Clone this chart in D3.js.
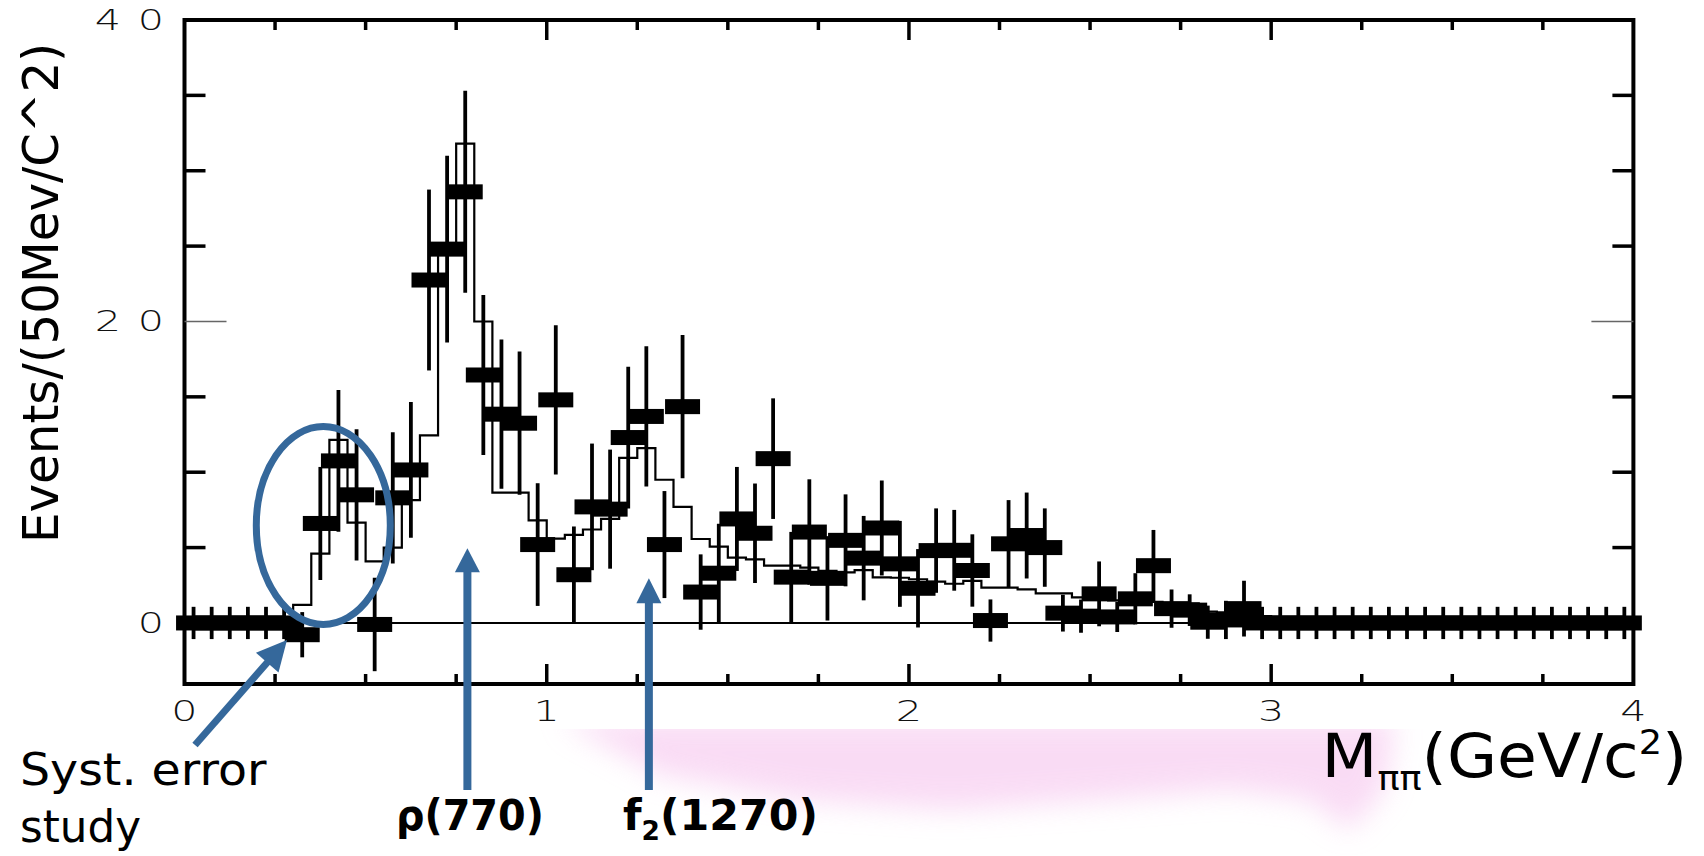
<!DOCTYPE html>
<html><head><meta charset="utf-8">
<script src="https://cdn.jsdelivr.net/npm/d3@7"></script>
<style>html,body{margin:0;padding:0;background:#fff;overflow:hidden}svg{display:block}</style>
</head><body>
<svg id="c" width="1704" height="856"></svg>
<script>
// ---------------- data ----------------
const binWidth = 0.05;               // GeV per bin (50 MeV)
// measured points (events / 50 MeV), bins 0..79
const values = [
  0,0,0,0,0,0,-0.78,6.6,10.75,8.5,
  -0.1,8.3,10.15,22.75,24.8,28.6,16.45,13.85,13.25,5.2,
  14.8,3.2,7.7,7.55,12.3,13.7,5.2,14.35,2.05,3.3,
  6.9,5.95,10.9,3.04,6.03,2.96,5.48,4.3,6.3,3.92,
  2.3,4.8,4.82,3.48,0.16,5.25,5.8,5.0,0.65,0.45,
  1.93,0.4,1.6,3.8,0.95,0.85,0.05,0.2,0.95,0,
  0,0,0,0,0,0,0,0,0,0,
  0,0,0,0,0,0,0,0,0,0
];
const errors = [
  1.07,1.07,1.07,1.07,1.07,1.07,1.5,3.75,4.7,4.35,
  3.1,4.35,4.5,6.0,6.2,6.7,5.3,4.95,4.75,4.07,
  4.95,3.2,4.2,3.95,4.7,4.65,3.55,4.75,2.5,3.28,
  3.45,3.3,4.0,3.0,3.5,2.8,3.05,2.8,3.15,2.85,
  2.6,2.8,2.68,2.4,1.4,2.9,2.85,2.6,1.22,1.1,
  2.15,1.0,1.7,2.37,1.27,1.05,1.1,1.27,1.85,1.07,
  1.07,1.07,1.07,1.07,1.07,1.07,1.07,1.07,1.07,1.07,
  1.07,1.07,1.07,1.07,1.07,1.07,1.07,1.07,1.07,1.07
];
// Monte Carlo histogram
const mcValues = [
  0,0,0,0,0,0,1.2,4.6,12.15,6.65,
  4.08,5.0,8.15,12.45,24.5,31.8,20.0,8.65,8.65,6.8,
  5.6,5.84,6.2,6.9,10.95,11.6,9.5,7.7,5.57,5.06,
  4.33,4.22,3.8,3.8,3.67,3.45,3.35,3.5,3.03,3.0,
  2.9,2.74,2.6,2.79,2.34,2.34,2.23,1.96,1.96,1.7,
  1.6,1.5,1.45,1.4,1.3,1.3,0.75,0.7,0.55,0.45,
  0.35,0.3,0.25,0.2,0.2,0.15,0.1,0.1,0.1,0.1,
  0,0,0,0,0,0,0,0,0,0
];
const xTickLabels = ["0","1","2","3","4"];
const yTickLabels = ["0","20","40"];
const yTitle = "Events/(50Mev/C^2)";
const rhoLabel = "ρ(770)";
const f2Label = ["f","2","(1270)"];
const systLabel = ["Syst. error","study"];

// ---------------- setup ----------------
const svg = d3.select("#c");
const W = 1704, H = 856;
const x = d3.scaleLinear().domain([0, 4]).range([184.5, 1633.4]);
const y = d3.scaleLinear().domain([-4.05, 40]).range([684, 20]);
const BLUE = "#35689b";

// pink smudge (background decoration)
const defs = svg.append("defs");
defs.append("filter").attr("id","blur").attr("x","-20%").attr("y","-50%").attr("width","140%").attr("height","200%")
  .append("feGaussianBlur").attr("stdDeviation", 14);
defs.append("clipPath").attr("id","pinkclip").append("rect").attr("x",0).attr("y",729).attr("width",W).attr("height",H-729);
svg.append("g").attr("clip-path","url(#pinkclip)")
  .append("path")
  .attr("d","M560,720 L1395,720 L1385,790 L1350,830 L1310,800 L1230,790 L1100,800 L950,810 L800,800 L660,775 Z")
  .attr("fill","#f6c4ee").attr("opacity",0.6).attr("filter","url(#blur)");

// ---------------- plot ----------------
const plot = svg.append("g");

// MC step histogram
const mcPts = mcValues.map((v,i)=>({e:i*binWidth, v}));
mcPts.push({e: mcValues.length*binWidth, v: mcValues[mcValues.length-1]});
plot.append("path")
  .attr("d", d3.line().x(d=>x(d.e)).y(d=>y(d.v)).curve(d3.curveStepAfter)(mcPts))
  .attr("fill","none").attr("stroke","#000").attr("stroke-width",2.2);

// zero line
plot.append("line").attr("x1",x(0)).attr("x2",x(4)).attr("y1",y(0)).attr("y2",y(0))
  .attr("stroke","#000").attr("stroke-width",2);

const pts = values.map((v,i)=>({c:(i+0.5)*binWidth, v, e:errors[i]}));
plot.selectAll("line.err").data(pts).enter().append("line").attr("class","err")
  .attr("x1",d=>x(d.c)).attr("x2",d=>x(d.c))
  .attr("y1",d=>y(d.v+d.e)).attr("y2",d=>y(d.v-d.e))
  .attr("stroke","#000").attr("stroke-width",3.8);
plot.selectAll("rect.pt").data(pts).enter().append("rect").attr("class","pt")
  .attr("x",d=>x(d.c)-17.5).attr("width",35)
  .attr("y",d=>y(d.v)-7.5).attr("height",15)
  .attr("fill","#000");

// frame
plot.append("rect").attr("x",x(0)).attr("y",y(40)).attr("width",x(4)-x(0)).attr("height",y(-4.05)-y(40))
  .attr("fill","none").attr("stroke","#000").attr("stroke-width",4);

// x ticks (bottom & top, inward)
const xt = d3.range(0, 4.0001, 0.25).filter(t=>t>0 && t<4);
xt.forEach(t=>{
  const major = Math.abs(t-Math.round(t))<1e-6;
  const len = major?20:10;
  plot.append("line").attr("x1",x(t)).attr("x2",x(t)).attr("y1",y(-4.05)).attr("y2",y(-4.05)-len).attr("stroke","#000").attr("stroke-width",3.5);
  plot.append("line").attr("x1",x(t)).attr("x2",x(t)).attr("y1",y(40)).attr("y2",y(40)+len).attr("stroke","#000").attr("stroke-width",3.5);
});
// y ticks (left & right)
d3.range(5, 40, 5).forEach(t=>{
  const major = t===20;
  const len = major?42:21;
  const sw = major?1.3:3.5, col = major?"#666":"#000";
  plot.append("line").attr("x1",x(0)).attr("x2",x(0)+len).attr("y1",y(t)).attr("y2",y(t)).attr("stroke",col).attr("stroke-width",sw);
  plot.append("line").attr("x1",x(4)).attr("x2",x(4)-len).attr("y1",y(t)).attr("y2",y(t)).attr("stroke",col).attr("stroke-width",sw);
});

// tick labels: thin, widely spaced digits
function digitLabel(str, rightOrCenter, cy, anchorRight){
  const n = str.length, step = 43;
  const first = anchorRight ? rightOrCenter - 11.5 - (n-1)*step : rightOrCenter - (n-1)*step/2;
  for(let k=0;k<n;k++){
    const cx = first + k*step;
    svg.append("text").text(str[k])
      .attr("transform",`translate(${cx},${cy+10}) scale(1.5,1)`)
      .attr("text-anchor","middle")
      .attr("font-family","DejaVu Sans").attr("font-weight",200).attr("font-size",27.5)
      .attr("fill","#111");
  }
}
yTickLabels.forEach(s=>digitLabel(s, 162.5, y(+s), true));
xTickLabels.forEach(s=>digitLabel(s, x(+s), 711, false));

// y axis title
svg.append("text").text(yTitle)
  .attr("transform",`translate(58,293) rotate(-90)`)
  .attr("text-anchor","middle")
  .attr("font-family","DejaVu Sans").attr("font-size",50)
  .attr("textLength",500).attr("lengthAdjust","spacingAndGlyphs")
  .attr("fill","#000");

// x axis title
const xtitle = svg.append("text").attr("font-family","DejaVu Sans").attr("fill","#000")
  .attr("x",0).attr("y",777).attr("font-size",60);
xtitle.append("tspan").text("M");
xtitle.append("tspan").text("ππ").attr("font-size",34).attr("dy",13);
xtitle.append("tspan").text("(GeV/c").attr("dy",-13);
xtitle.append("tspan").text("2").attr("font-size",34).attr("dy",-23);
xtitle.append("tspan").text(")").attr("dy",23);
(function(){const bb=xtitle.node().getBBox(); const s=366/bb.width;
  xtitle.attr("transform",`translate(1321.5,0) scale(${s},1) translate(${-bb.x},0)`);})();

// ---------------- annotations ----------------
const ann = svg.append("g");
ann.append("ellipse").attr("cx",323.3).attr("cy",525.5).attr("rx",67).attr("ry",99)
  .attr("fill","none").attr("stroke",BLUE).attr("stroke-width",7);

function arrow(x1,y1,x2,y2,w,hl,hw){
  const dx=x2-x1, dy=y2-y1, L=Math.hypot(dx,dy), ux=dx/L, uy=dy/L;
  const bx=x2-ux*hl, by=y2-uy*hl, px=-uy, py=ux;
  ann.append("line").attr("x1",x1).attr("y1",y1).attr("x2",bx+ux*2).attr("y2",by+uy*2)
    .attr("stroke",BLUE).attr("stroke-width",w);
  ann.append("path").attr("d",`M${x2},${y2} L${bx+px*hw},${by+py*hw} L${bx-px*hw},${by-py*hw} Z`).attr("fill",BLUE);
}
arrow(195,745,287,640,7,30,15);
arrow(x(0.781),790,x(0.781),y(4.95),8,24,12.5);
arrow(x(1.282),790,x(1.282),y(2.97),8,25,12.5);

// labels
function fitX(sel, x0, width){const bb=sel.node().getBBox(); const s=width/bb.width;
  sel.attr("transform",`translate(${x0},0) scale(${s},1) translate(${-bb.x},0)`);}
const t1 = svg.append("text").text(systLabel[0]).attr("x",0).attr("y",785).attr("font-family","DejaVu Sans").attr("font-size",45).attr("fill","#000");
fitX(t1,20,247);
const t2 = svg.append("text").text(systLabel[1]).attr("x",0).attr("y",842).attr("font-family","DejaVu Sans").attr("font-size",45).attr("fill","#000");
fitX(t2,20,121);
const t3 = svg.append("text").text(rhoLabel).attr("x",0).attr("y",830).attr("font-family","DejaVu Sans").attr("font-weight","bold").attr("font-size",42).attr("fill","#000");
fitX(t3,396,148);
const t4 = svg.append("text").attr("x",0).attr("y",830).attr("font-family","DejaVu Sans").attr("font-weight","bold").attr("font-size",42).attr("fill","#000");
t4.append("tspan").text(f2Label[0]);
t4.append("tspan").text(f2Label[1]).attr("font-size",26).attr("dy",10);
t4.append("tspan").text(f2Label[2]).attr("dy",-10);
fitX(t4,623,195);
</script>
</body></html>
